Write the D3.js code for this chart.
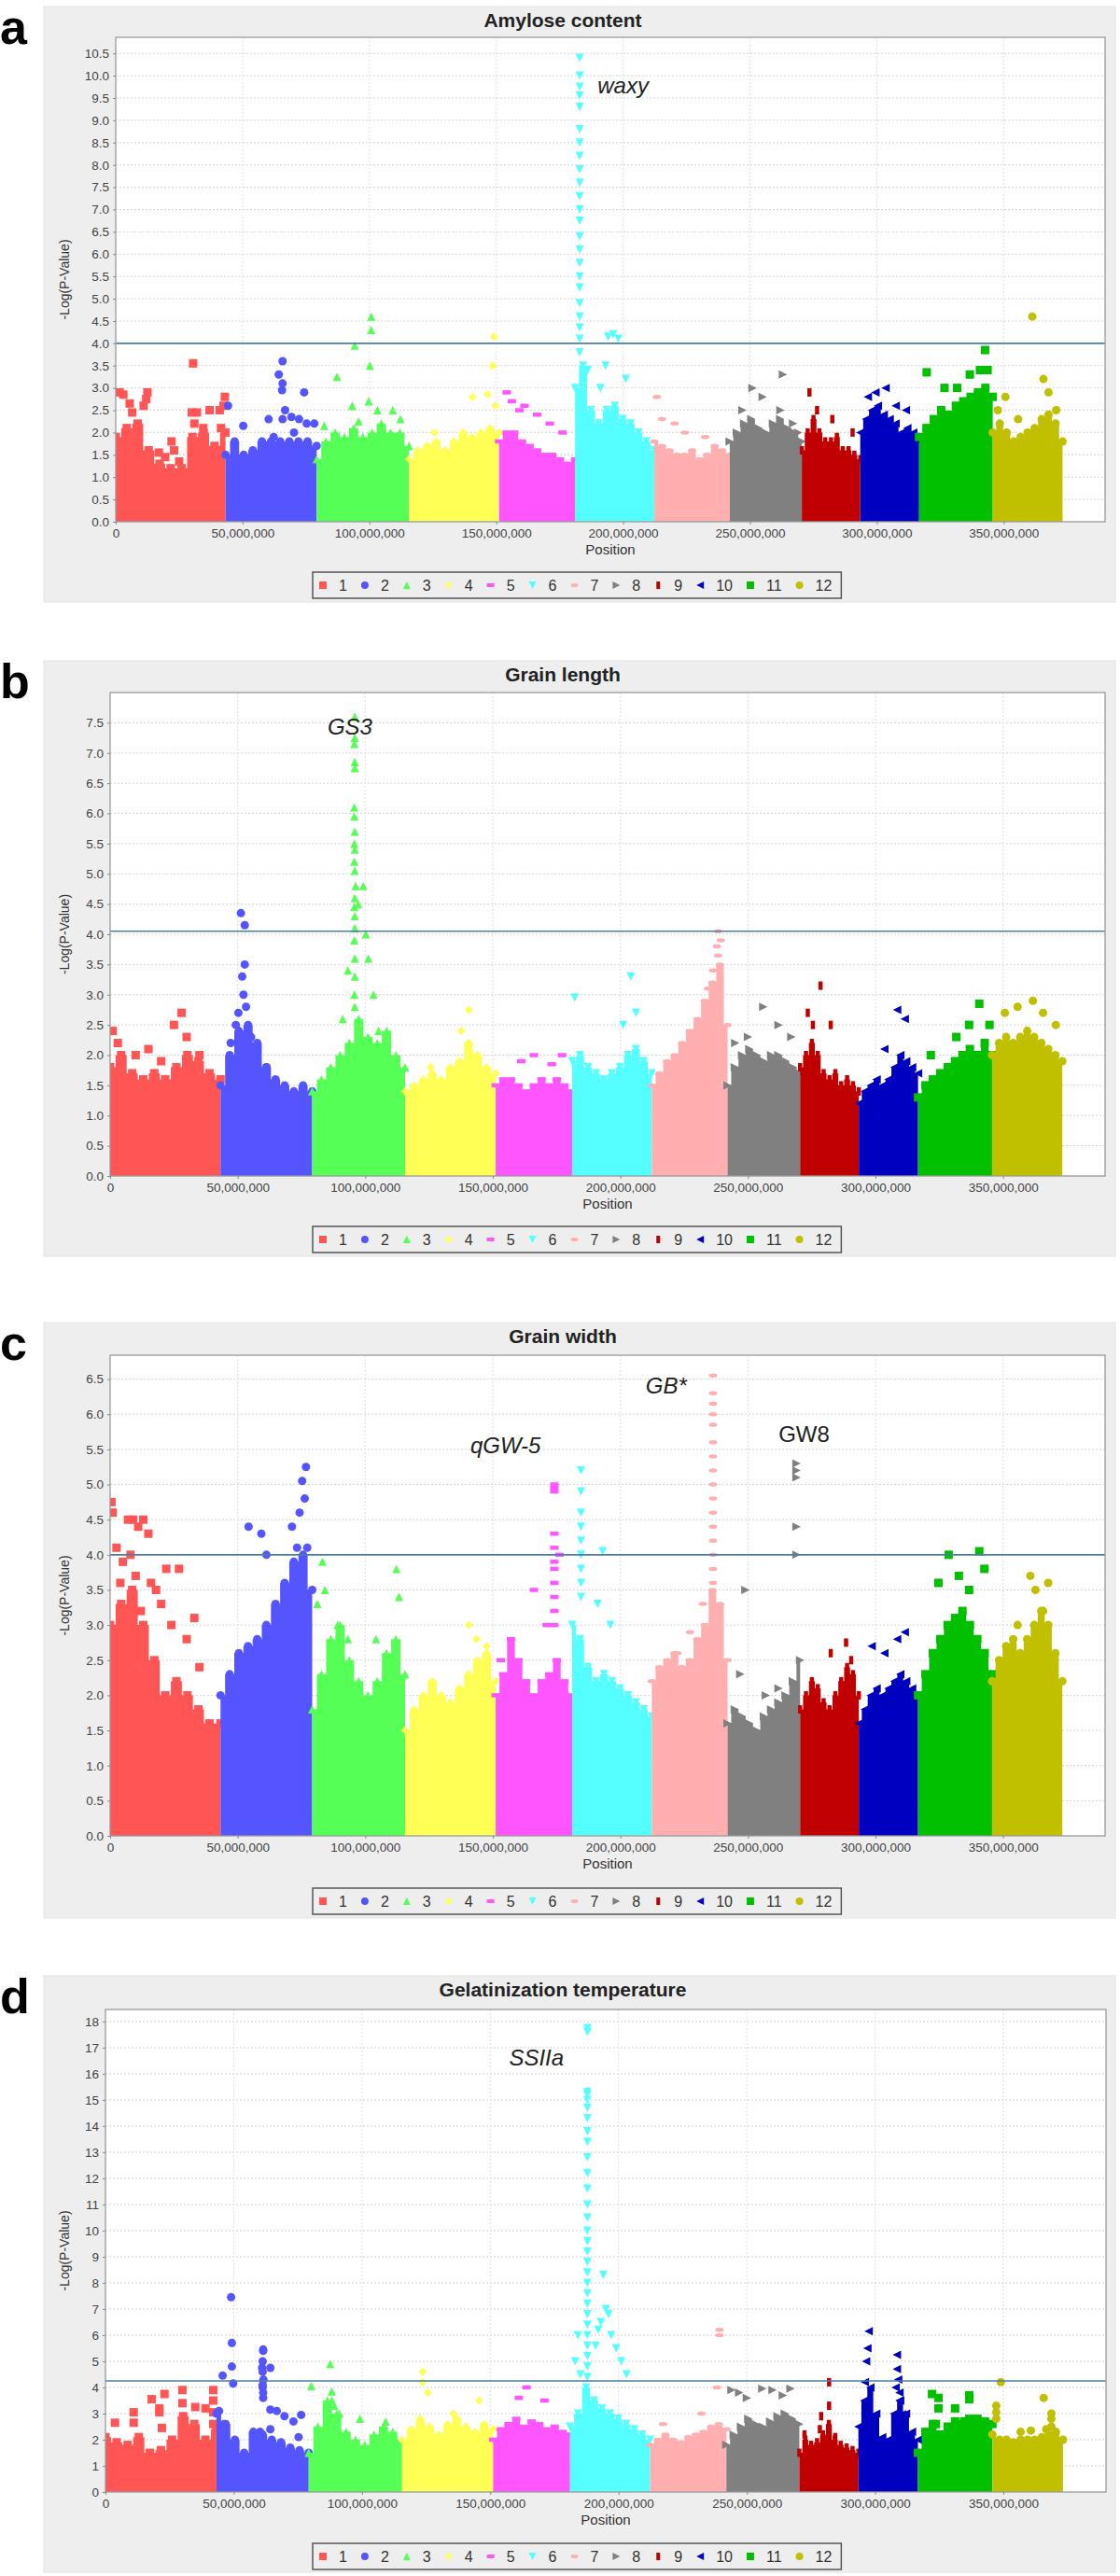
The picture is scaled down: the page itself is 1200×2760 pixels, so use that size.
<!DOCTYPE html>
<html>
<head>
<meta charset="utf-8">
<script src="https://cdn.jsdelivr.net/npm/d3@7"></script>
<style>
  body { margin: 0; background: #fff; }
  svg { display: block; }
  text { font-family: "Liberation Sans", Arial, sans-serif; }
</style>
</head>
<body>
<svg id="chart" width="1200" height="2760"></svg>
<script>
// chromosome lengths (Mb) and colours
const chromNames = ["1","2","3","4","5","6","7","8","9","10","11","12"];
const chromLen = [43.27, 35.94, 36.41, 35.50, 29.96, 31.25, 29.70, 28.44, 23.01, 23.21, 29.02, 27.53];
const chromColors = ["#FF5555","#5555FF","#55FF55","#FFFF55","#FF55FF","#55FFFF",
                     "#FFAFAF","#808080","#C00000","#0000C0","#00C000","#C0C000"];
const xTicks = [0, 50e6, 100e6, 150e6, 200e6, 250e6, 300e6, 350e6];

// dense background of each chromosome: top of the cloud, 11 samples from start to end
const envAmylose = [
  [1.9,2.1,2.2,1.6,1.3,1.2,1.2,1.9,2.0,1.7,2.0],
  [1.5,1.8,1.5,1.6,1.8,1.8,1.8,1.8,1.8,1.8,1.7],
  [1.4,1.8,2.0,1.9,2.1,1.9,2.0,2.2,2.0,2.0,1.7],
  [1.4,1.6,1.7,1.8,1.6,1.8,2.0,1.9,2.0,2.1,2.0],
  [1.8,2.0,2.0,1.8,1.7,1.6,1.5,1.5,1.4,1.3,1.4],
  [3.0,3.5,2.5,2.2,2.5,2.6,2.3,2.2,2.0,1.8,1.6],
  [1.8,1.7,1.6,1.5,1.5,1.6,1.4,1.5,1.7,1.6,1.5],
  [1.8,2.0,2.2,2.3,2.1,2.0,2.2,2.3,2.1,2.0,1.8],
  [1.6,2.0,2.3,2.0,1.8,1.8,1.9,1.6,1.6,1.5,1.4],
  [2.0,2.3,2.5,2.6,2.4,2.3,2.2,2.0,2.1,2.0,1.8],
  [1.9,2.1,2.3,2.5,2.4,2.6,2.7,2.8,2.9,3.0,2.8],
  [2.0,2.2,2.0,1.8,1.9,2.0,2.1,2.3,2.4,2.2,1.8]
];
// single markers: [chromosome, position in chromosome (Mb), -log p]
const peaksAmylose = [
  [1,1.5,2.9],[1,3,2.85],[1,5.5,2.65],[1,6.5,2.45],[1,11,2.6],[1,12,2.75],[1,12.5,2.9],[1,17,1.55],
  [1,19.5,1.45],[1,22,1.8],[1,23,1.6],[1,25,1.35],[1,30,2.45],[1,30.5,3.55],[1,31,2.2],[1,32,2.45],
  [1,34.5,2.1],[1,37,2.5],[1,41,2.5],[1,41.5,2.1],[1,42.5,2.6],[1,43,2.8],
  [2,1,2.6],[2,7,2.15],[2,17,2.3],[2,19,1.9],[2,21,3.3],[2,22.5,3.6],[2,22.5,3.1],[2,22.3,2.95],
  [2,23.5,2.5],[2,22.5,2.3],[2,26,2.35],[2,27,2.0],[2,29,2.3],[2,31,2.9],[2,32,2.2],[2,35,2.2],
  [3,3,2.15],[3,8,3.25],[3,14,2.6],[3,15,3.95],[3,16.5,2.25],[3,20.5,2.7],[3,21,3.5],[3,21.5,4.3],
  [3,21.5,4.6],[3,24,2.5],[3,30,2.5],[3,33,2.3],
  [4,10,2.0],[4,25,2.8],[4,31,2.85],[4,33,3.5],[4,33.5,4.15],[4,34,2.6],
  [5,3,2.9],[5,5,2.7],[5,8,2.5],[5,10,2.6],[5,15,2.4],[5,20,2.2],[5,25,2.0],
  [6,1.8,10.4],[6,1.8,10.0],[6,1.8,9.75],[6,1.8,9.55],[6,1.8,9.3],[6,1.8,8.8],[6,1.8,8.5],[6,1.8,8.2],
  [6,1.8,7.9],[6,1.8,7.6],[6,1.8,7.3],[6,1.8,7.0],[6,1.8,6.75],[6,1.8,6.4],[6,1.8,6.1],[6,1.8,5.8],
  [6,1.8,5.5],[6,1.8,5.25],[6,1.8,4.9],[6,1.8,4.6],[6,1.8,4.35],[6,1.8,4.1],[6,1.8,3.8],
  [6,5,3.4],[6,10,3.0],[6,12,3.5],[6,13,4.15],[6,15,4.2],[6,17,4.1],[6,20,3.2],
  [7,1,2.8],[7,3,2.3],[7,8,2.2],[7,12,2.0],[7,20,1.9],
  [8,5,2.5],[8,9,3.0],[8,13,2.8],[8,21,3.3],[8,20,2.5],[8,25,2.2],[8,27,2.0],
  [9,3,2.9],[9,6,2.5],[9,12,2.3],[9,20,2.0],
  [10,3,2.8],[10,6,2.9],[10,10,3.0],[10,14,2.6],[10,18,2.5],
  [11,3,3.35],[11,10,3.0],[11,15,3.0],[11,20,3.3],[11,24,3.4],[11,26,3.85],[11,27,3.4],
  [12,2,2.5],[12,5,2.8],[12,10,2.3],[12,15.6,4.6],[12,20,3.2],[12,22,2.9],[12,25,2.5]
];

const envLength = [
  [1.8,2.0,1.7,1.6,1.7,1.6,1.8,2.0,1.9,1.7,1.6],
  [1.5,2.0,2.4,2.5,2.2,1.8,1.6,1.5,1.4,1.5,1.4],
  [1.4,1.6,1.8,2.0,2.2,2.6,2.3,2.2,2.4,2.0,1.8],
  [1.4,1.5,1.6,1.7,1.6,1.8,1.9,2.2,2.0,1.8,1.7],
  [1.5,1.6,1.6,1.5,1.4,1.5,1.6,1.5,1.6,1.5,1.4],
  [1.9,2.0,1.8,1.7,1.6,1.7,1.8,2.0,2.1,1.9,1.7],
  [1.5,1.7,1.9,2.0,2.2,2.4,2.6,2.9,3.2,3.5,2.5],
  [1.5,1.8,2.0,2.1,2.0,1.9,2.0,2.0,1.9,1.8,1.7],
  [1.8,2.0,2.2,2.0,1.7,1.6,1.7,1.5,1.6,1.5,1.4],
  [1.2,1.4,1.5,1.6,1.5,1.6,1.8,2.0,1.9,1.8,1.7],
  [1.3,1.5,1.6,1.7,1.8,1.9,2.0,2.1,2.0,2.2,2.0],
  [2.0,2.2,2.3,2.2,2.3,2.4,2.3,2.2,2.1,2.0,1.9]
];
const peaksLength = [
  [1,1,2.4],[1,3,2.2],[1,10,2.0],[1,15,2.1],[1,20,1.9],[1,25,2.5],[1,28,2.7],[1,30,2.3],[1,35,2.0],
  [2,4,2.2],[2,6,2.5],[2,7,2.7],[2,8,4.35],[2,8.5,3.3],[2,9,3.0],[2,9.5,3.5],[2,9.5,4.15],[2,10,2.8],
  [2,12,2.3],[2,14,2.0],[2,18,1.8],
  [3,16.7,7.6],[3,16.7,7.25],[3,16.5,7.15],[3,16.7,6.85],[3,16.7,6.75],[3,16.5,6.1],[3,16.5,5.95],
  [3,16.7,5.7],[3,16.5,5.5],[3,16.7,5.4],[3,16.5,5.2],[3,16.7,5.05],[3,17,4.8],[3,16.7,4.6],
  [3,16.5,4.45],[3,16.7,4.3],[3,16.7,4.1],[3,16.5,3.9],[3,16.7,3.6],[3,16.7,3.3],[3,16.5,3.0],[3,16.7,2.8],
  [3,12,2.6],[3,14,3.4],[3,18,4.5],[3,20,4.8],[3,21,4.0],[3,22,3.6],[3,24,3.0],[3,26,2.4],
  [4,10,1.8],[4,22,2.4],[4,25,2.75],
  [5,10,1.9],[5,15,2.0],[5,22,1.85],[5,26,2.0],
  [6,1,2.95],[6,20,2.5],[6,23,3.3],[6,25,2.7],
  [7,22,3.1],[7,24,3.4],[7,25.5,3.8],[7,26,3.65],[7,26,4.05],[7,27,3.9],
  [8,3,2.2],[8,8,2.3],[8,14,2.8],[8,20,2.5],[8,25,2.3],
  [9,3,2.7],[9,5,2.5],[9,8,3.15],[9,12,2.5],
  [10,10,2.1],[10,15,2.75],[10,18,2.6],
  [11,5,2.0],[11,15,2.3],[11,20,2.5],[11,24,2.85],[11,28,2.5],
  [12,5,2.7],[12,10,2.8],[12,16,2.9],[12,20,2.7],[12,25,2.5]
];

const envWidth = [
  [3.0,3.3,3.5,3.0,2.5,2.0,2.2,2.0,1.8,1.6,1.6],
  [2.0,2.3,2.6,2.7,2.8,3.0,3.3,3.6,3.9,4.0,3.5],
  [1.8,2.3,2.8,3.0,2.5,2.2,2.0,2.2,2.6,2.8,2.3],
  [1.5,1.8,2.0,2.2,2.0,1.9,2.1,2.3,2.5,2.6,2.2],
  [2.0,2.3,2.8,2.5,2.2,2.0,2.2,2.3,2.5,2.2,2.0],
  [3.0,2.8,2.4,2.2,2.3,2.2,2.1,2.0,1.9,1.8,1.7],
  [2.2,2.4,2.5,2.6,2.4,2.5,2.8,3.0,3.5,3.3,2.5],
  [1.6,1.8,1.7,1.6,1.5,1.7,1.8,1.9,2.0,2.2,2.5],
  [1.8,2.0,2.2,2.1,1.9,1.8,2.0,2.2,2.4,2.3,2.0],
  [1.6,1.8,2.0,2.1,2.0,2.1,2.2,2.3,2.2,2.1,2.0],
  [2.0,2.3,2.6,2.8,3.0,3.1,3.2,3.0,2.8,2.6,2.3],
  [2.2,2.5,2.7,2.8,2.6,2.8,3.0,3.2,3.0,2.6,2.2]
];
const peaksWidth = [
  [1,0.5,4.75],[1,1,4.6],[1,2.5,4.1],[1,4,3.6],[1,5,3.9],[1,7,4.5],[1,8,4.0],[1,9,4.5],[1,10,3.7],
  [1,11,4.4],[1,12,3.2],[1,13,4.5],[1,15,4.3],[1,16,3.6],[1,18,3.5],[1,20,3.3],[1,22,3.8],[1,24,3.0],
  [1,27,3.8],[1,30,2.8],[1,33,3.1],[1,35,2.4],
  [2,11,4.4],[2,16,4.3],[2,18,4.0],[2,28,4.4],[2,30,4.1],[2,31,4.6],[2,32,5.05],[2,33,4.8],[2,33.5,5.25],[2,34,4.1],
  [3,2,3.3],[3,4,3.9],[3,5,3.5],[3,10,3.0],[3,14,2.8],[3,25,2.8],[3,33,3.8],[3,34,3.4],
  [4,25,3.0],[4,28,2.8],[4,32,2.7],
  [5,23,5.0],[5,23,4.95],[5,23,4.9],[5,23,4.3],[5,23,4.1],[5,23,3.9],[5,23,3.8],[5,23,3.6],
  [5,23,3.4],[5,23,3.2],[5,23,3.0],[5,2,2.5],[5,15,3.5],[5,20,3.0],[5,25,4.0],
  [6,3.5,5.2],[6,3.5,4.9],[6,3.5,4.6],[6,3.5,4.4],[6,3.5,4.2],[6,3.5,4.0],[6,3.5,3.8],[6,3.5,3.6],[6,3.5,3.4],
  [6,10,3.3],[6,12,4.05],[6,15,3.0],
  [7,24,6.55],[7,24,6.3],[7,24,6.15],[7,24,6.0],[7,24,5.85],[7,24,5.6],[7,24,5.4],[7,24,5.2],
  [7,24,5.0],[7,24,4.8],[7,24,4.6],[7,24,4.4],[7,24,4.2],[7,24,4.0],[7,24,3.8],[7,24,3.6],
  [7,10,2.6],[7,15,2.9],[7,20,3.3],
  [8,27,5.3],[8,27,5.2],[8,27,5.1],[8,27,4.4],[8,27,4.0],[8,7,3.5],[8,5,2.3],[8,15,2.0],[8,20,2.1],
  [9,12,2.6],[9,18,2.75],[9,20,2.5],
  [10,5,2.7],[10,10,2.6],[10,15,2.8],[10,18,2.9],
  [11,8,3.6],[11,12,4.0],[11,16,3.7],[11,20,3.5],[11,24,4.05],[11,26,3.8],
  [12,10,3.0],[12,15,3.7],[12,17,3.5],[12,20,3.2],[12,22,3.6]
];

const envGelat = [
  [2.1,1.9,1.8,2.1,1.5,1.6,2.0,2.9,2.6,2.0,2.4],
  [3.0,2.6,2.0,1.5,2.3,2.2,2.0,1.9,1.7,1.6,1.5],
  [1.5,2.5,3.5,3.0,2.3,2.0,1.8,2.2,2.5,2.3,2.0],
  [2.0,2.4,2.8,2.5,2.2,2.6,2.8,2.5,2.3,2.6,2.4],
  [2.0,2.4,2.6,2.8,2.5,2.7,2.6,2.4,2.5,2.3,2.2],
  [2.5,3.0,4.0,3.5,3.2,3.0,2.8,2.6,2.4,2.2,2.0],
  [1.8,2.0,2.2,2.0,1.9,2.1,2.2,2.3,2.5,2.6,2.4],
  [1.8,2.2,2.5,2.8,2.6,2.5,2.7,2.9,3.0,2.8,2.6],
  [1.5,2.0,1.8,1.9,2.2,2.6,2.0,1.8,1.7,1.6,1.5],
  [2.5,3.5,4.0,3.0,2.1,2.0,3.0,3.5,3.0,2.3,2.0],
  [1.5,2.3,2.6,2.2,2.5,2.7,2.6,2.7,2.8,2.7,2.6],
  [2.2,2.0,2.0,1.9,2.0,2.0,2.0,2.1,2.2,2.3,2.0]
];
const peaksGelat = [
  [1,3.7,2.65],[1,11,3.05],[1,11,2.65],[1,18,3.55],[1,21,3.2],[1,21,3.05],[1,23,3.75],[1,22,2.45],
  [1,30,3.9],[1,30,3.4],[1,35,3.25],[1,39,3.2],[1,42,3.9],[1,42,3.5],[1,42,3.05],[1,42,2.6],
  [2,2.4,4.45],[2,5.7,7.45],[2,6,5.7],[2,6,4.8],[2,6.5,4.15],[2,18.2,5.45],[2,18.2,5.4],[2,18,5.0],
  [2,17.8,4.75],[2,18,4.6],[2,18.3,4.3],[2,18,4.1],[2,18,4.0],[2,18.2,3.8],[2,18.2,3.6],[2,21,4.75],
  [2,21,3.15],[2,23.5,3.1],[2,26.5,2.9],[2,30,2.7],[2,33,2.95],[2,32,2.1],[2,17,2.3],[2,21,2.4],
  [2,1,3.1],[2,3,2.6],
  [3,1,4.05],[3,8.4,4.9],[3,9,3.85],[3,9,3.5],[3,10,3.3],[3,4,2.4],[3,12,3.0],[3,20,2.8],[3,30,2.7],
  [4,8,4.6],[4,8,4.2],[4,10,3.8],[4,20,3.0],[4,30,3.5],
  [5,10,3.6],[5,13,4.0],[5,20,3.5],
  [6,6.75,17.75],[6,6.75,17.6],[6,6.75,15.3],[6,6.75,15.2],[6,6.75,15.0],[6,6.75,14.7],[6,6.75,14.3],
  [6,6.75,13.8],[6,6.75,13.4],[6,6.75,12.8],[6,6.75,12.2],[6,6.75,11.6],[6,6.75,11.0],[6,6.75,10.5],
  [6,6.75,10.0],[6,6.75,9.6],[6,6.75,9.2],[6,6.75,8.8],[6,6.75,8.4],[6,6.75,8.0],[6,6.75,7.6],
  [6,6.75,7.2],[6,6.75,6.8],[6,6.75,6.4],[6,6.75,6.0],[6,6.75,5.6],[6,6.75,5.2],[6,6.75,4.8],[6,6.75,4.4],
  [6,2,5.0],[6,3,6.0],[6,4,4.5],[6,10,5.6],[6,11,6.2],[6,12,6.5],[6,13,8.3],[6,14,7.0],[6,15,6.8],
  [6,16,6.0],[6,18,5.5],[6,20,5.0],[6,22,4.5],
  [7,5,2.6],[7,20,3.0],[7,26,4.0],[7,27,6.0],[7,27,6.2],
  [8,2,3.9],[8,5,3.8],[8,8,3.6],[8,14,3.95],[8,18,3.9],[8,22,3.7],[8,25,3.95],
  [9,2,2.2],[9,8,2.4],[9,8.5,2.9],[9,11.6,3.3],[9,11.6,4.2],[9,14,2.1],
  [10,2.5,4.2],[10,3,5.0],[10,3.5,5.5],[10,4,6.15],[10,15,5.25],[10,15,4.7],[10,15.5,4.3],[10,14.5,4.0],
  [10,16,3.8],[10,16,3.5],[10,17,2.97],
  [11,5.5,3.75],[11,8,3.6],[11,8,3.2],[11,7,2.6],[11,14.5,3.2],[11,20,3.55],[11,20,3.7],[11,18,2.7],
  [11,20,2.8],[11,23,2.6],
  [12,1.5,3.3],[12,1.5,3.05],[12,1.5,2.8],[12,3.3,4.2],[12,11,2.3],[12,15,2.35],[12,20,3.6],[12,21,2.4],
  [12,23,3.0],[12,23,2.8],[12,23,2.5]
];

// gene labels: [text, genome position (Mb), -log p, italic]
const notesAmylose = [["waxy", 200, 9.6, true]];
const notesLength = [["GS3", 94, 7.3, true]];
const notesWidth = [["qGW-5", 155, 5.45, true], ["GB*", 218, 6.3, true], ["GW8", 272, 5.6, false]];
const notesGelat = [["SSIIa", 168, 16.3, true]];

const panels = [
  { tag: "a", title: "Amylose content", env: envAmylose, peaks: peaksAmylose, notes: notesAmylose,
    yMax: 10.86, yTicks: d3.range(0, 10.51, 0.5), fmt: d3.format(".1f"), threshold: 4.0,
    box: [47, 7, 1195, 645], plot: [124, 40, 1184, 559], legendY: 613 },
  { tag: "b", title: "Grain length", env: envLength, peaks: peaksLength, notes: notesLength,
    yMax: 8.0, yTicks: d3.range(0, 7.51, 0.5), fmt: d3.format(".1f"), threshold: 4.05,
    box: [47, 708, 1195, 1346], plot: [118, 742, 1184, 1260], legendY: 1314 },
  { tag: "c", title: "Grain width", env: envWidth, peaks: peaksWidth, notes: notesWidth,
    yMax: 6.84, yTicks: d3.range(0, 6.51, 0.5), fmt: d3.format(".1f"), threshold: 4.0,
    box: [47, 1417, 1195, 2055], plot: [118, 1452, 1184, 1967], legendY: 2023 },
  { tag: "d", title: "Gelatinization temperature", env: envGelat, peaks: peaksGelat, notes: notesGelat,
    yMax: 18.46, yTicks: d3.range(0, 18.1, 1), fmt: d3.format("d"), threshold: 4.25,
    box: [47, 2117, 1195, 2756], plot: [113, 2153, 1185, 2670], legendY: 2725 }
];

function shapePath(k, s) {
  const h = s / 2, q = s / 4;
  switch (k % 10) {
    case 0: return `M${-h},${-h}h${s}v${s}h${-s}Z`;
    case 1: return `M${-h},0a${h},${h} 0 1,0 ${s},0a${h},${h} 0 1,0 ${-s},0Z`;
    case 2: return `M0,${-h}L${h},${h}L${-h},${h}Z`;
    case 3: return `M0,${-h}L${h},0L0,${h}L${-h},0Z`;
    case 4: return `M${-h},${-q}h${s}v${h}h${-s}Z`;
    case 5: return `M${-h},${-h}L${h},${-h}L0,${h}Z`;
    case 6: return `M${-h},0a${h},${q} 0 1,0 ${s},0a${h},${q} 0 1,0 ${-s},0Z`;
    case 7: return `M${-h},${-h}L${h},0L${-h},${h}Z`;
    case 8: return `M${-q},${-h}h${h}v${s}h${-h}Z`;
    default: return `M${h},${-h}L${-h},0L${h},${h}Z`;
  }
}

const svg = d3.select("#chart");
const chromStart = [0, ...d3.cumsum(chromLen)].slice(0, 12);
const MB = 1e6;

panels.forEach((p, pi) => drawPanel(p, pi));

function drawPanel(p, pi) {
  let [bx0, by0, bx1, by1] = p.box;
  let [left, top, right, bottom] = p.plot;
  let g = svg.append("g");

  g.append("rect").attr("x", bx0).attr("y", by0).attr("width", bx1 - bx0).attr("height", by1 - by0)
    .attr("fill", "#eeeeee").attr("stroke", "#e4e4e4");

  g.append("text").attr("x", 0).attr("y", by0 + 40)
    .attr("font-size", 52).attr("font-weight", "bold").attr("fill", "#000").text(p.tag);

  g.append("text").attr("x", 603).attr("y", by0 + 22)
    .attr("text-anchor", "middle").attr("font-size", 21).attr("font-weight", "bold")
    .attr("fill", "#222").text(p.title);

  let x = d3.scaleLinear().domain([0, 390e6]).range([left, right]);
  let y = d3.scaleLinear().domain([0, p.yMax]).range([bottom, top]);

  g.append("rect").attr("x", left).attr("y", top).attr("width", right - left).attr("height", bottom - top)
    .attr("fill", "#fff");

  // grid
  g.append("g").selectAll("line").data(p.yTicks.slice(1)).enter().append("line")
    .attr("x1", left).attr("x2", right).attr("y1", d => y(d)).attr("y2", d => y(d))
    .attr("stroke", "#d4d4d4").attr("stroke-dasharray", "2,2");
  g.append("g").selectAll("line").data(xTicks.slice(1)).enter().append("line")
    .attr("y1", top).attr("y2", bottom).attr("x1", d => x(d)).attr("x2", d => x(d))
    .attr("stroke", "#e0e0e0").attr("stroke-dasharray", "2,2");

  let clipId = "clip" + pi;
  svg.append("clipPath").attr("id", clipId).append("rect")
    .attr("x", left).attr("y", top).attr("width", right - left).attr("height", bottom - top);
  let plotG = g.append("g").attr("clip-path", `url(#${clipId})`);

  let area = d3.area().curve(d3.curveStep)
    .x(d => x(d[0])).y0(y(0)).y1(d => y(d[1]));

  chromLen.forEach((len, ci) => {
    let start = chromStart[ci];
    let pts = p.env[ci].map((v, i, arr) => [(start + len * i / (arr.length - 1)) * MB, v]);
    let cg = plotG.append("g").attr("fill", chromColors[ci]);
    cg.append("path").datum(pts).attr("d", area);
    let marks = pts.concat(p.peaks.filter(d => d[0] === ci + 1)
      .map(d => [(start + d[1]) * MB, d[2]]));
    cg.selectAll("path.m").data(marks).enter().append("path").attr("class", "m")
      .attr("transform", d => `translate(${x(d[0])},${y(d[1])})`)
      .attr("d", shapePath(ci, 9));
  });

  // threshold
  g.append("line").attr("x1", left).attr("x2", right)
    .attr("y1", y(p.threshold)).attr("y2", y(p.threshold))
    .attr("stroke", "#4a7ea6").attr("stroke-width", 1.6);

  // border
  g.append("rect").attr("x", left).attr("y", top).attr("width", right - left).attr("height", bottom - top)
    .attr("fill", "none").attr("stroke", "#9a9a9a").attr("stroke-width", 1.3);

  // axes
  let yAxis = d3.axisLeft(y).tickValues(p.yTicks).tickFormat(p.fmt).tickSize(3).tickPadding(4);
  let ya = g.append("g").attr("transform", `translate(${left},0)`).call(yAxis);
  let xAxis = d3.axisBottom(x).tickValues(xTicks).tickFormat(d3.format(",")).tickSize(3).tickPadding(4);
  let xa = g.append("g").attr("transform", `translate(0,${bottom})`).call(xAxis);
  [ya, xa].forEach(a => {
    a.select(".domain").remove();
    a.selectAll("line").attr("stroke", "#888");
    a.selectAll("text").attr("font-size", 13.5).attr("fill", "#444")
      .attr("font-family", '"Liberation Sans", Arial, sans-serif');
  });

  g.append("text").attr("transform", `translate(74,${(top + bottom) / 2}) rotate(-90)`)
    .attr("text-anchor", "middle").attr("font-size", 14).attr("fill", "#333").text("-Log(P-Value)");
  g.append("text").attr("x", (left + right) / 2).attr("y", bottom + 35)
    .attr("text-anchor", "middle").attr("font-size", 15).attr("fill", "#333").text("Position");

  // gene labels
  g.selectAll("text.note").data(p.notes).enter().append("text").attr("class", "note")
    .attr("x", d => x(d[1] * MB)).attr("y", d => y(d[2]))
    .attr("text-anchor", "middle").attr("font-size", 24)
    .attr("font-style", d => d[3] ? "italic" : "normal")
    .attr("font-family", '"Open Sans", "DejaVu Sans", sans-serif')
    .attr("fill", "#222").text(d => d[0]);

  // legend
  let lg = g.append("g");
  let lbox = lg.append("rect").attr("y", p.legendY).attr("height", 28)
    .attr("fill", "none").attr("stroke", "#555").attr("stroke-width", 1.5);
  let cx = 346, cy = p.legendY + 14;
  chromNames.forEach((name, ci) => {
    lg.append("path").attr("transform", `translate(${cx},${cy})`)
      .attr("d", shapePath(ci, 8)).attr("fill", chromColors[ci]);
    let t = lg.append("text").attr("x", cx + 17).attr("y", cy + 6)
      .attr("font-size", 16).attr("fill", "#333").text(name);
    cx = cx + 17 + t.node().getComputedTextLength() + 19;
  });
  lbox.attr("x", 335).attr("width", cx - 19 + 10 - 335);
}
</script>
</body>
</html>
